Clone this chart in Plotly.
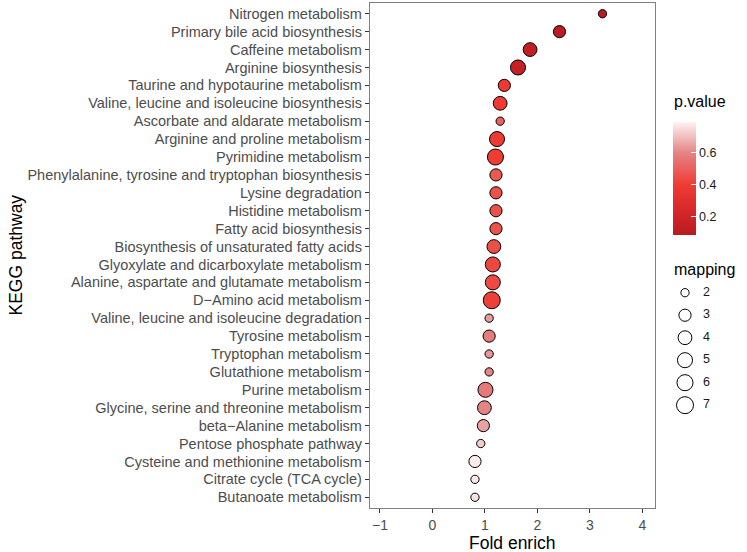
import numpy as np
import plotly.graph_objects as go

# ---------------- data ----------------
pathways = [
    "Nitrogen metabolism",
    "Primary bile acid biosynthesis",
    "Caffeine metabolism",
    "Arginine biosynthesis",
    "Taurine and hypotaurine metabolism",
    "Valine, leucine and isoleucine biosynthesis",
    "Ascorbate and aldarate metabolism",
    "Arginine and proline metabolism",
    "Pyrimidine metabolism",
    "Phenylalanine, tyrosine and tryptophan biosynthesis",
    "Lysine degradation",
    "Histidine metabolism",
    "Fatty acid biosynthesis",
    "Biosynthesis of unsaturated fatty acids",
    "Glyoxylate and dicarboxylate metabolism",
    "Alanine, aspartate and glutamate metabolism",
    "D\u2212Amino acid metabolism",
    "Valine, leucine and isoleucine degradation",
    "Tyrosine metabolism",
    "Tryptophan metabolism",
    "Glutathione metabolism",
    "Purine metabolism",
    "Glycine, serine and threonine metabolism",
    "beta\u2212Alanine metabolism",
    "Pentose phosphate pathway",
    "Cysteine and methionine metabolism",
    "Citrate cycle (TCA cycle)",
    "Butanoate metabolism",
]
fold_enrich = [3.24, 2.42, 1.86, 1.63, 1.37, 1.29, 1.29, 1.23, 1.20, 1.21,
               1.21, 1.21, 1.21, 1.17, 1.15, 1.15, 1.13, 1.08, 1.08, 1.08,
               1.08, 1.01, 0.99, 0.97, 0.92, 0.81, 0.81, 0.81]
mapping = [2, 3, 4, 5, 3, 4, 2, 5, 6, 3,
           3, 3, 3, 4, 5, 5, 7, 2, 3, 2,
           2, 5, 4, 3, 2, 3, 2, 2]
p_value = [0.09, 0.10, 0.14, 0.15, 0.38, 0.39, 0.50, 0.39, 0.40, 0.48,
           0.46, 0.46, 0.46, 0.45, 0.43, 0.44, 0.41, 0.64, 0.58, 0.63,
           0.60, 0.57, 0.60, 0.65, 0.72, 0.78, 0.77, 0.76]
x_ticks = [-1, 0, 1, 2, 3, 4]
p_ticks = [0.2, 0.4, 0.6]
size_levels = [2, 3, 4, 5, 6, 7]

# ---------------- styling ----------------
W, H = 747, 552
FONT = "Liberation Sans, Arial, Helvetica, sans-serif"
P_MIN, P_MAX = 0.09, 0.79
colorscale = [
    [0.00, "#B81B21"],
    [0.16, "#CF2428"],
    [0.44, "#EF3B33"],
    [0.73, "#E48585"],
    [1.00, "#FFF2F2"],
]
LINE_W = 1.0


def size_px(m):
    # area-style size scale: outer diameter 9.3px (m=2) .. 18px (m=7)
    m = np.asarray(m, dtype=float)
    return 9.3 + 8.7 * np.sqrt((m - 2) / 5.0) - LINE_W


def px_x(p):
    return p / W


def px_y(p):
    return 1 - p / H


fig = go.Figure()

fig.add_trace(go.Scatter(
    x=fold_enrich, y=pathways, mode="markers",
    marker=dict(
        size=size_px(mapping), opacity=1,
        color=p_value, cmin=P_MIN, cmax=P_MAX, colorscale=colorscale,
        line=dict(color="black", width=LINE_W),
        colorbar=dict(
            x=px_x(673), xanchor="left",
            y=px_y(121.7), yanchor="top",
            len=(235 - 121.7) / H, lenmode="fraction",
            thickness=23, thicknessmode="pixels",
            xpad=0, ypad=0, outlinewidth=0,
            tickvals=p_ticks, ticktext=[f"{v:.1f}" for v in p_ticks],
            ticks="inside", ticklen=5, tickcolor="white", tickwidth=1,
            tickfont=dict(family=FONT, size=12.5, color="#1A1A1A"),
        ),
    ),
    showlegend=False, hoverinfo="x+y",
))

# size legend (separate hidden axes in pixel-like coordinates)
leg_y = [292.7 + 22.5 * i for i in range(len(size_levels))]
fig.add_trace(go.Scatter(
    x=[685] * len(size_levels), y=leg_y, mode="markers",
    marker=dict(size=size_px(size_levels), color="white", opacity=1,
                line=dict(color="black", width=LINE_W)),
    xaxis="x2", yaxis="y2", showlegend=False, hoverinfo="skip",
))
fig.add_trace(go.Scatter(
    x=[703] * len(size_levels), y=leg_y, mode="text",
    text=[str(s) for s in size_levels], textposition="middle right",
    textfont=dict(family=FONT, size=12.5, color="#1A1A1A"),
    xaxis="x2", yaxis="y2", showlegend=False, hoverinfo="skip",
))

axis_common = dict(
    showgrid=False, zeroline=False, showline=True, mirror=True,
    linecolor="#808080", linewidth=1.3,
    ticks="outside", ticklen=4, tickwidth=1.2, tickcolor="#333333",
    automargin=False,
)

fig.update_layout(
    width=W, height=H,
    margin=dict(l=0, r=0, t=0, b=0, autoexpand=False),
    paper_bgcolor="white", plot_bgcolor="white",
    font=dict(family=FONT),
    showlegend=False,
    xaxis=dict(
        domain=[370 / W, 655 / W], range=[-1.19, 4.24],
        tickvals=x_ticks,
        tickfont=dict(family=FONT, size=14, color="#4D4D4D"),
        **axis_common,
    ),
    yaxis=dict(
        domain=[px_y(508), px_y(3)], type="category",
        categoryorder="array", categoryarray=pathways,
        range=[len(pathways) - 1 + 0.6, -0.6],
        tickfont=dict(family=FONT, size=14.5, color="#4D4D4D"),
        **axis_common,
    ),
    xaxis2=dict(domain=[660 / W, 740 / W], range=[660, 740], visible=False,
                fixedrange=True),
    yaxis2=dict(domain=[px_y(430), px_y(250)], range=[430, 250], visible=False,
                fixedrange=True),
    annotations=[
        dict(text="Fold enrich", xref="paper", yref="paper",
             x=px_x(512.5), y=px_y(543), xanchor="center", yanchor="middle",
             showarrow=False, font=dict(family=FONT, size=17.5, color="black")),
        dict(text="KEGG pathway", xref="paper", yref="paper", textangle=-90,
             x=px_x(15), y=px_y(255.5), xanchor="center", yanchor="middle",
             showarrow=False, font=dict(family=FONT, size=17.5, color="black")),
        dict(text="p.value", xref="paper", yref="paper", x=px_x(672), y=px_y(101),
             xanchor="left", yanchor="middle", showarrow=False,
             font=dict(family=FONT, size=16, color="black")),
        dict(text="mapping", xref="paper", yref="paper", x=px_x(672), y=px_y(269),
             xanchor="left", yanchor="middle", showarrow=False,
             font=dict(family=FONT, size=16, color="black")),
    ],
)

fig.write_html("out.html")
